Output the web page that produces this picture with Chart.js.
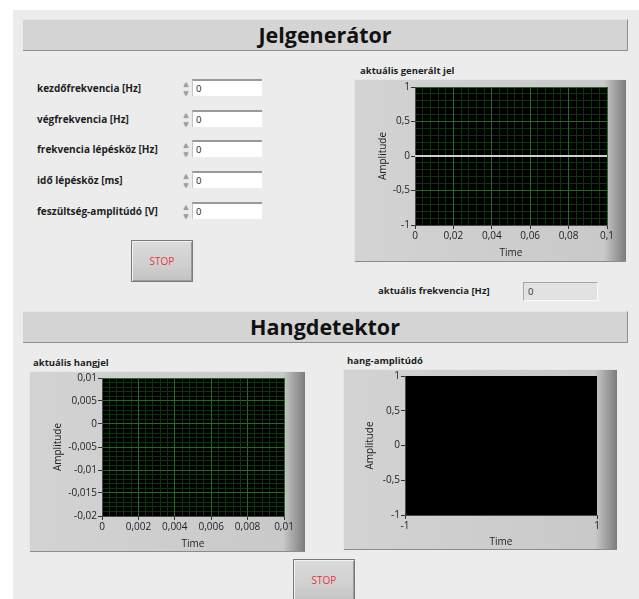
<!DOCTYPE html>
<html lang="hu">
<head>
<meta charset="utf-8">
<title>Jelgenerátor / Hangdetektor</title>
<script src="https://cdn.jsdelivr.net/npm/chart.js@4.4.1/dist/chart.umd.min.js"></script>
<style>
  html, body { margin: 0; padding: 0; background: #fff; }
  body { width: 639px; height: 599px; position: relative; overflow: hidden;
         font-family: 'Open Sans', 'Noto Sans', sans-serif; color: #222; }
  .panel { position: absolute; left: 13px; top: 10px; width: 626px; height: 589px; background: #ececec; }
  .bar { position: absolute; left: 23px; width: 604px; height: 30px; background: #d4d4d4;
         border-top: 1px solid #e4e4e4; border-bottom: 1px solid #8e8e8e; border-right: 1px solid #8e8e8e;
         text-align: center; font-weight: bold; font-size: 21.5px; line-height: 30px; color: #111; }
  .lbl { position: absolute; font-size: 9.5px; font-weight: bold; color: #1e1e1e; white-space: nowrap; line-height: 12px; }
  .lbl.ctl { font-size: 10px; }
  .spin { position: absolute; width: 10px; height: 18px; font-size: 8px; line-height: 9px; color: #a0a0a0; text-align: center;
          text-shadow: 0 0 1px #777; }
  .num { position: absolute; width: 70px; height: 17px; background: #fff; font-size: 9.5px; line-height: 15px;
         padding-left: 3px; box-sizing: border-box; border-top: 2px solid #9a9a9a; border-left: 1px solid #c4c4c4; color: #222; }
  .ind { position: absolute; background: #e2e2e2; font-size: 9.5px; line-height: 17px; padding-left: 4px; box-sizing: border-box;
         border-top: 1px solid #a8a8a8; border-left: 1px solid #a8a8a8; border-bottom: 1px solid #fafafa; border-right: 1px solid #fafafa; color: #333; }
  .btn { position: absolute; width: 62px; height: 42px; box-sizing: border-box;
         background: linear-gradient(180deg, #dcdcdc 0%, #cfcfcf 60%, #c2c2c2 100%);
         border: 1px solid #7a7a7a; box-shadow: inset 1px 1px 0 #f2f2f2, inset -1px -1px 0 #9a9a9a;
         color: #e8383c; font-size: 10px; text-align: center; line-height: 40px; }
  .frame { position: absolute;
           background: linear-gradient(90deg, #d3d3d3 0%, #c9c9c9 92%, #a2a2a2 96%, #7c7c7c 100%);
           box-shadow: inset 1px 1px 0 #e6e6e6, inset 0 -1px 0 #8c8c8c; }
  .frame canvas { position: absolute; left: 0; top: 0; }
</style>
</head>
<body>
<div class="panel"></div>
<div class="bar" style="top:19px">Jelgenerátor</div>
<div class="bar" style="top:311px">Hangdetektor</div>

<div id="controls"></div>

<div class="btn" style="left:131px; top:240px">STOP</div>
<div class="btn" style="left:293px; top:559px; height:46px; line-height:40px">STOP</div>

<div class="lbl" style="left:360px; top:65px">aktuális generált jel</div>
<div class="frame" style="left:354px; top:79px; width:272px; height:183px">
  <canvas id="genChart" width="272" height="183"></canvas>
</div>

<div class="lbl" style="left:378px; top:285px">aktuális frekvencia [Hz]</div>
<div class="ind" id="freqInd" style="left:523px; top:282px; width:75px; height:19px"></div>

<div class="lbl" style="left:33px; top:357px">aktuális hangjel</div>
<div class="frame" style="left:29px; top:371px; width:276px; height:181px">
  <canvas id="soundChart" width="276" height="181"></canvas>
</div>

<div class="lbl" style="left:347px; top:355px">hang-amplitúdó</div>
<div class="frame" style="left:343px; top:369px; width:274px; height:181px">
  <canvas id="levelChart" width="274" height="181"></canvas>
</div>

<script>
// aktuális generált jel
const genTime = [0, 0.02, 0.04, 0.06, 0.08, 0.1];
const genAmp = [0, 0, 0, 0, 0, 0];
const genTimeTicks = [0, 0.02, 0.04, 0.06, 0.08, 0.1];
const genAmpTicks = [-1, -0.5, 0, 0.5, 1];

// aktuális hangjel (nincs adat)
const soundTime = [];
const soundAmp = [];
const soundTimeTicks = [0, 0.002, 0.004, 0.006, 0.008, 0.01];
const soundAmpTicks = [-0.02, -0.015, -0.01, -0.005, 0, 0.005, 0.01];

// hang-amplitúdó (nincs adat)
const levelTime = [];
const levelAmp = [];
const levelTimeTicks = [-1, 1];
const levelAmpTicks = [-1, -0.5, 0, 0.5, 1];

// bemenetek
const controlLabels = ['kezdőfrekvencia [Hz]', 'végfrekvencia [Hz]', 'frekvencia lépésköz [Hz]', 'idő lépésköz [ms]', 'feszültség-amplitúdó [V]'];
const controlValues = [0, 0, 0, 0, 0];
const actualFreq = 0;

const MAJOR = '#1f6e1f';
const MINOR = '#0c370c';
const TXT = '#1e1e1e';

Chart.defaults.font.family = "'Open Sans', 'Noto Sans', sans-serif";
Chart.defaults.font.size = 10;
Chart.defaults.color = TXT;
Chart.defaults.animation = false;

// numerikus vezérlők
const box = document.getElementById('controls');
controlLabels.forEach((txt, i) => {
  const top = Math.round(79 + i * 30.7);
  box.insertAdjacentHTML('beforeend',
    `<div class="lbl ctl" style="left:37px; top:${top + 3}px">${txt}</div>` +
    `<div class="spin" style="left:181px; top:${top}px">▲<br>▼</div>` +
    `<div class="num" style="left:192px; top:${top}px">${controlValues[i]}</div>`);
});
document.getElementById('freqInd').textContent = actualFreq;

// fekete rajzterület
const plotBg = {
  id: 'plotBg',
  beforeDraw(chart) {
    const a = chart.chartArea, c = chart.ctx;
    c.save();
    c.fillStyle = '#000';
    c.fillRect(a.left, a.top, a.right - a.left, a.bottom - a.top);
    c.restore();
  }
};

const fmt = v => String(v).replace('.', ',');

function minorAxis(pos, min, max, step) {
  return {
    type: 'linear', position: pos, min: min, max: max,
    ticks: { display: false, stepSize: step, maxTicksLimit: 200 },
    grid: { color: MINOR, z: -2, drawTicks: false },
    border: { display: false },
    afterFit: s => { if (pos === 'left') s.width = 0; else s.height = 0; }
  };
}

function makeGraph(id, g) {
  const xMin = g.xTicks[0], xMax = g.xTicks[g.xTicks.length - 1];
  const yMin = g.yTicks[0], yMax = g.yTicks[g.yTicks.length - 1];
  const scales = {
    x: {
      type: 'linear', position: 'bottom', min: xMin, max: xMax,
      afterBuildTicks: s => { s.ticks = g.xTicks.map(v => ({ value: v })); },
      ticks: { callback: fmt, color: TXT, padding: 1, maxRotation: 0, autoSkip: false },
      grid: { color: MAJOR, display: true, drawOnChartArea: g.grid, tickColor: '#333', tickLength: 4 },
      border: { color: '#4a4a4a' },
      title: { display: true, text: 'Time', color: TXT, padding: { top: 0, bottom: g.xTitlePad } },
      afterFit: s => { s.height = g.xh; }
    },
    y: {
      type: 'linear', position: 'left', min: yMin, max: yMax,
      afterBuildTicks: s => { s.ticks = g.yTicks.map(v => ({ value: v })); },
      ticks: { callback: fmt, color: TXT, padding: 1, autoSkip: false },
      grid: { color: MAJOR, display: true, drawOnChartArea: g.grid, tickColor: '#333', tickLength: 4 },
      border: { color: '#4a4a4a' },
      title: { display: true, text: 'Amplitude', color: TXT, padding: { top: g.yTitlePad, bottom: 0 } },
      afterFit: s => { s.width = g.yw; }
    }
  };
  if (g.grid) {
    scales.xMinor = minorAxis('bottom', xMin, xMax, g.xMinor);
    scales.yMinor = minorAxis('left', yMin, yMax, g.yMinor);
  }
  return new Chart(document.getElementById(id), {
    type: 'line',
    data: {
      datasets: [{
        data: g.xs.map((x, i) => ({ x: x, y: g.ys[i] })),
        borderColor: '#cfcfcf',
        borderWidth: 2,
        pointRadius: 0,
        tension: 0
      }]
    },
    options: {
      responsive: false,
      layout: { padding: { top: g.padTop, right: g.padRight, left: 0, bottom: 0 } },
      plugins: { legend: { display: false }, tooltip: { enabled: false } },
      scales: scales
    },
    plugins: [plotBg]
  });
}

makeGraph('genChart', {
  xs: genTime, ys: genAmp, xTicks: genTimeTicks, yTicks: genAmpTicks,
  grid: true, xMinor: 0.004, yMinor: 0.1,
  yw: 61, xh: 37, padTop: 8, padRight: 19, yTitlePad: 23, xTitlePad: 3
});

makeGraph('soundChart', {
  xs: soundTime, ys: soundAmp, xTicks: soundTimeTicks, yTicks: soundAmpTicks,
  grid: true, xMinor: 0.0004, yMinor: 0.001,
  yw: 73, xh: 36, padTop: 7, padRight: 21, yTitlePad: 23, xTitlePad: 2
});

makeGraph('levelChart', {
  xs: levelTime, ys: levelAmp, xTicks: levelTimeTicks, yTicks: levelAmpTicks,
  grid: false,
  yw: 62, xh: 35, padTop: 7, padRight: 20, yTitlePad: 21, xTitlePad: 2
});
</script>
</body>
</html>
